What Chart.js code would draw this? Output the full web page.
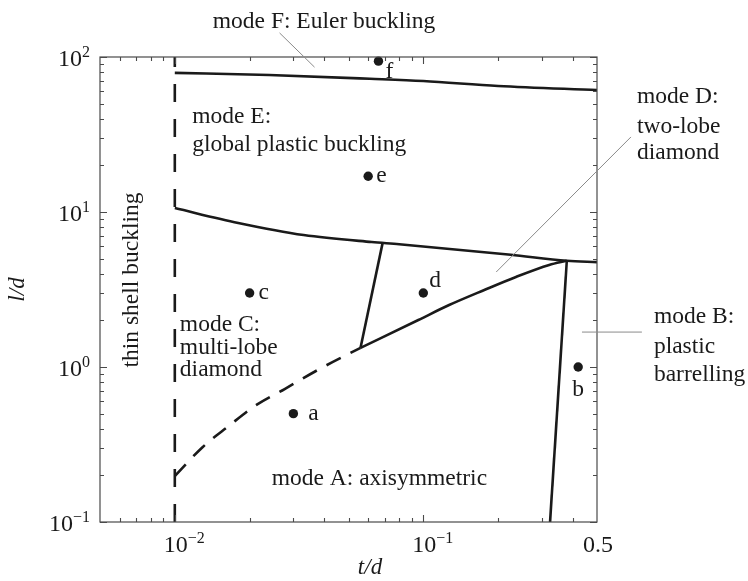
<!DOCTYPE html>
<html>
<head>
<meta charset="utf-8">
<script src="https://cdn.jsdelivr.net/npm/chart.js@4.4.1/dist/chart.umd.min.js"></script>
<style>
  html, body { margin: 0; padding: 0; background: #fff; }
  #wrap { width: 748px; height: 581px; position: relative; }
</style>
</head>
<body>
<div id="wrap"><canvas id="map" width="748" height="581"></canvas></div>
<script>
// Buckling-mode map: t/d on x, l/d on y (both logarithmic)

// axis limits
const tMin = 0.005, tMax = 0.5;
const lMin = 0.1, lMax = 100;

// tick values and labels
const xMajorTicks = [0.01, 0.1];
const xMinorTicks = [0.006, 0.007, 0.008, 0.009, 0.02, 0.03, 0.04, 0.05, 0.06, 0.07, 0.08, 0.09, 0.2, 0.3, 0.4];
const xLabelValues = [0.01, 0.1, 0.5];
const xLabelBase = ['10', '10', '0.5'];
const xLabelExp = ['\u22122', '\u22121', ''];
const yMajorTicks = [0.1, 1, 10, 100];
const yMinorTicks = [0.2, 0.3, 0.4, 0.5, 0.6, 0.7, 0.8, 0.9, 2, 3, 4, 5, 6, 7, 8, 9, 20, 30, 40, 50, 60, 70, 80, 90];
const yLabelValues = [0.1, 1, 10, 100];
const yLabelExp = ['\u22121', '0', '1', '2'];

// boundary: thin shell buckling limit
const thinShellT = [0.01, 0.01];
const thinShellL = [0.1, 100];
// boundary: Euler buckling (F) / global plastic buckling (E)
const eulerT = [0.01, 0.024, 0.061, 0.1, 0.2, 0.5];
const eulerL = [79, 76.5, 72.4, 70, 65, 61.2];
// boundary: global plastic buckling (E) / lower modes
const globalT = [0.01, 0.018, 0.033, 0.062, 0.08, 0.225, 0.378, 0.5];
const globalL = [10.6, 8.5, 7.1, 6.4, 6.2, 5.3, 4.85, 4.75];
// boundary: multi-lobe (C) / two-lobe (D)
const lobeEdgeT = [0.0685, 0.0559];
const lobeEdgeL = [6.25, 1.33];
// boundary: two-lobe (D) / axisymmetric (A)
const twoLobeT = [0.0559, 0.0955, 0.127, 0.176, 0.236, 0.321, 0.378];
const twoLobeL = [1.33, 2.01, 2.51, 3.14, 3.81, 4.55, 4.85];
// boundary: axisymmetric (A) / plastic barrelling (B)
const barrelT = [0.378, 0.3236];
const barrelL = [4.85, 0.1];
// boundary (dashed): multi-lobe (C) / axisymmetric (A)
const multiLobeT = [0.01, 0.01296, 0.01648, 0.02097, 0.02767, 0.03824, 0.0559];
const multiLobeL = [0.198, 0.305, 0.416, 0.560, 0.721, 0.971, 1.33];

// specimens
const specimenNames = ['a', 'b', 'c', 'd', 'e', 'f'];
const specimenT = [0.03, 0.42, 0.02, 0.1, 0.06, 0.066];
const specimenL = [0.5, 1.0, 3, 3, 17, 94];

// region labels (left edge, vertical centre, in t/d and l/d)
const regionText = ['mode F: Euler buckling', 'mode E:', 'global plastic buckling',
  'mode C:', 'multi-lobe', 'diamond', 'mode A: axisymmetric',
  'mode D:', 'two-lobe', 'diamond', 'mode B:', 'plastic', 'barrelling'];
const regionT = [0.01422, 0.01175, 0.01175, 0.01048, 0.01048, 0.01048, 0.02454,
  0.7238, 0.7238, 0.7238, 0.847, 0.847, 0.847];
const regionL = [168, 41, 27.05, 1.866, 1.326, 0.956, 0.1894,
  55.2, 35.3, 24.0, 2.10, 1.346, 0.888];

// leader lines from labels to regions
const leaderT0 = [0.0264, 0.1965, 0.435];
const leaderL0 = [143, 4.1, 1.68];
const leaderT1 = [0.0365, 0.685, 0.758];
const leaderL1 = [86, 30.5, 1.68];

const serif = '"Liberation Serif", "Times New Roman", serif';
const ink = '#1a1a1a';

function pts(T, L) { return T.map((t, i) => ({ x: t, y: L[i] })); }
function curve(T, L, extra) {
  return Object.assign({
    data: pts(T, L), showLine: true, borderColor: ink, borderWidth: 2.6,
    pointRadius: 0, pointHoverRadius: 0, fill: false, tension: 0,
    borderCapStyle: 'butt', borderJoinStyle: 'round'
  }, extra || {});
}

const decor = {
  id: 'decor',
  afterDatasetsDraw(chart) {
    const ctx = chart.ctx;
    const xs = chart.scales.x, ys = chart.scales.y;
    const a = chart.chartArea;
    const X = v => xs.getPixelForValue(v);
    const Y = v => ys.getPixelForValue(v);
    ctx.save();

    // frame
    ctx.strokeStyle = '#4a4a4a';
    ctx.lineWidth = 1.2;
    ctx.strokeRect(a.left, a.top, a.right - a.left, a.bottom - a.top);

    // inward ticks on all four sides
    ctx.lineWidth = 1.1;
    const tickX = (v, len) => {
      const p = Math.round(X(v)) + 0.5;
      ctx.beginPath();
      ctx.moveTo(p, a.bottom); ctx.lineTo(p, a.bottom - len);
      ctx.moveTo(p, a.top); ctx.lineTo(p, a.top + len);
      ctx.stroke();
    };
    const tickY = (v, len) => {
      const p = Math.round(Y(v)) + 0.5;
      ctx.beginPath();
      ctx.moveTo(a.left, p); ctx.lineTo(a.left + len, p);
      ctx.moveTo(a.right, p); ctx.lineTo(a.right - len, p);
      ctx.stroke();
    };
    xMinorTicks.forEach(v => tickX(v, 4));
    xMajorTicks.forEach(v => tickX(v, 7));
    yMinorTicks.forEach(v => tickY(v, 4));
    yMajorTicks.forEach(v => tickY(v, 7));

    // tick labels
    ctx.fillStyle = ink;
    ctx.textBaseline = 'alphabetic';
    const baseFont = '24px ' + serif, expFont = '16px ' + serif;
    xLabelValues.forEach((v, i) => {
      ctx.font = baseFont;
      const wb = ctx.measureText(xLabelBase[i]).width;
      const px = X(v) + 1;
      ctx.textAlign = 'left';
      ctx.fillText(xLabelBase[i], px - wb / 2, 552);
      if (xLabelExp[i]) {
        ctx.font = expFont;
        ctx.fillText(xLabelExp[i], px + wb / 2, 543);
      }
    });
    yLabelValues.forEach((v, i) => {
      ctx.font = expFont;
      const we = ctx.measureText(yLabelExp[i]).width;
      ctx.font = baseFont;
      const wb = ctx.measureText('10').width;
      const right = 90;
      const py = Y(v);
      ctx.textAlign = 'left';
      ctx.fillText('10', right - we - wb, py + 9);
      ctx.font = expFont;
      ctx.fillText(yLabelExp[i], right - we, py + 0);
    });

    // axis titles
    ctx.font = 'italic 23px ' + serif;
    ctx.textAlign = 'center';
    ctx.textBaseline = 'middle';
    ctx.fillText('t/d', 370, 568);
    ctx.save();
    ctx.translate(18, (a.top + a.bottom) / 2);
    ctx.rotate(-Math.PI / 2);
    ctx.fillText('l/d', 0, 0);
    ctx.restore();

    // leader lines
    ctx.strokeStyle = '#8a8a8a';
    ctx.lineWidth = 1;
    leaderT0.forEach((t, i) => {
      ctx.beginPath();
      ctx.moveTo(X(t), Y(leaderL0[i]));
      ctx.lineTo(X(leaderT1[i]), Y(leaderL1[i]));
      ctx.stroke();
    });

    // region labels
    ctx.font = '23.5px ' + serif;
    ctx.textAlign = 'left';
    ctx.textBaseline = 'middle';
    regionText.forEach((s, i) => ctx.fillText(s, X(regionT[i]), Y(regionL[i])));

    ctx.save();
    ctx.translate(X(0.00672), Y(3.64));
    ctx.rotate(-Math.PI / 2);
    ctx.textAlign = 'center';
    ctx.fillText('thin shell buckling', 0, 0);
    ctx.restore();

    // specimen letters
    const dx = [15, 0, 9, 6, 8, 7];
    const dy = [0, 23, 0, -12, 0, 11];
    specimenNames.forEach((s, i) => {
      const px = X(specimenT[i]) + dx[i], py = Y(specimenL[i]) + dy[i];
      ctx.textAlign = i === 1 ? 'center' : 'left';
      ctx.fillText(s, px, py);
    });

    ctx.restore();
  }
};

new Chart(document.getElementById('map'), {
  type: 'scatter',
  data: {
    datasets: [
      curve(thinShellT, thinShellL, { borderDash: [18, 17] }),
      curve(eulerT, eulerL, { cubicInterpolationMode: 'monotone' }),
      curve(globalT, globalL, { cubicInterpolationMode: 'monotone' }),
      curve(lobeEdgeT, lobeEdgeL),
      curve(twoLobeT, twoLobeL, { cubicInterpolationMode: 'monotone' }),
      curve(barrelT, barrelL),
      curve(multiLobeT, multiLobeL, { cubicInterpolationMode: 'monotone', borderDash: [16, 11] }),
      {
        data: pts(specimenT, specimenL), showLine: false,
        pointRadius: 4.7, pointHoverRadius: 4.7,
        pointBackgroundColor: ink, pointBorderWidth: 0, clip: false
      }
    ]
  },
  options: {
    responsive: false,
    animation: false,
    events: [],
    layout: { padding: { left: 100, right: 151, top: 57, bottom: 59 } },
    plugins: { legend: { display: false }, tooltip: { enabled: false } },
    scales: {
      x: { type: 'logarithmic', min: tMin, max: tMax, display: false },
      y: { type: 'logarithmic', min: lMin, max: lMax, display: false }
    }
  },
  plugins: [decor]
});
</script>
</body>
</html>
